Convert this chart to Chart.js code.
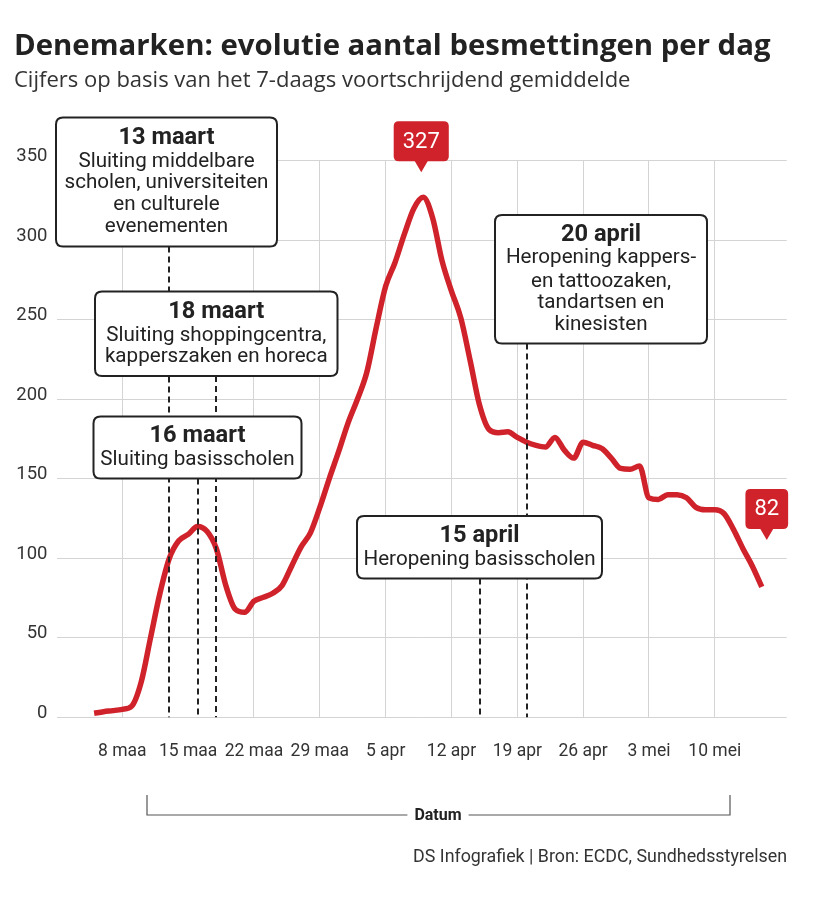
<!DOCTYPE html>
<html><head><meta charset="utf-8">
<script src="https://cdn.jsdelivr.net/npm/chart.js@4.4.1/dist/chart.umd.min.js"></script>
<style>html,body{margin:0;padding:0;background:#fff}#wrap{width:819px;height:902px;position:relative}</style>
</head><body><div id="wrap"><canvas id="c"></canvas></div>
<script>
// ---- data ----
const dayIndex = [4,5,6,7,8,9,10,11,12,13,14,15,16,17,18,19,20,21,22,23,24,25,26,27,28,29,30,31,32,33,34,35,36,37,38,39,40,41,42,43,44,45,46,47,48,49,50,51,52,53,54,55,56,57,58,59,60,61,62,63,64,65,66,67,68,69,70,71,72,73,74,75];
const cases = [2.5,3.5,4.2,5,7,22,50,78,100,111,115,120,117,106,83,68,66,73,75.5,78,83,95,107,116,132,150,167,185,200,217,245,271,286,304,320,327,314,287,268,251,224,196,181,179,179.5,176,173,171,170,176,168,163,173,171,169,163,156.5,156,158,138,137,140,140,138,132,130.5,130.5,128,118,106,95,82];
const tickDays = [7,14,21,28,35,42,49,56,63,70];
const tickLabels = ['8 maa','15 maa','22 maa','29 maa','5 apr','12 apr','19 apr','26 apr','3 mei','10 mei'];
const yTicks = [0,50,100,150,200,250,300,350];
const eventDays = [12,15,17,45,50];
const eventTitles = ['13 maart','16 maart','18 maart','15 april','20 april'];
const eventLines = [
  ['Sluiting middelbare','scholen, universiteiten','en culturele','evenementen'],
  ['Sluiting basisscholen'],
  ['Sluiting shoppingcentra,','kapperszaken en horeca'],
  ['Heropening basisscholen'],
  ['Heropening kappers-','en tattoozaken,','tandartsen en','kinesisten']
];
const titleText = 'Denemarken: evolutie aantal besmettingen per dag';
const subtitleText = 'Cijfers op basis van het 7-daags voortschrijdend gemiddelde';
const axisTitle = 'Datum';
const sourceText = 'DS Infografiek | Bron: ECDC, Sundhedsstyrelsen';

// ---- layout / style ----
const RED = '#d0222b';
const INK = '#222';
const GRID = '#d4d4d4';
const F = 'Roboto, "Noto Sans", sans-serif';
const FT = '"Open Sans", Roboto, sans-serif';
const boxes = [
  {x1:56, y1:117.5, x2:277, y2:246.5, ty:138, ly:[161.7,183.3,205,226.7]},
  {x1:93.5, y1:416.5, x2:301.5, y2:478.5, ty:436, ly:[460]},
  {x1:95, y1:291.5, x2:337.5, y2:376, ty:311.7, ly:[336,357.3]},
  {x1:357, y1:516, x2:602, y2:578.5, ty:536, ly:[560]},
  {x1:495, y1:215, x2:707, y2:343.5, ty:235, ly:[258.3,281.7,303.3,325]}
];

function rr(ctx,x,y,w,h,r){ctx.beginPath();ctx.moveTo(x+r,y);ctx.lineTo(x+w-r,y);ctx.quadraticCurveTo(x+w,y,x+w,y+r);ctx.lineTo(x+w,y+h-r);ctx.quadraticCurveTo(x+w,y+h,x+w-r,y+h);ctx.lineTo(x+r,y+h);ctx.quadraticCurveTo(x,y+h,x,y+h-r);ctx.lineTo(x,y+r);ctx.quadraticCurveTo(x,y,x+r,y);ctx.closePath();}
function fitSize(ctx, text, weight, family, target){ctx.font = weight+' 20px '+family; const w = ctx.measureText(text).width; return 20*target/w;}

function redLabel(ctx, tipX, tipY, text){
  ctx.font = '400 22px '+F;
  const tw = ctx.measureText(text).width;
  const w = tw + 18, h = 40;
  const x = tipX - w/2, yb = tipY - 11, y = yb - h;
  ctx.fillStyle = RED;
  rr(ctx,x,y,w,h,5); ctx.fill();
  ctx.beginPath(); ctx.moveTo(tipX-7,yb-1); ctx.lineTo(tipX+7,yb-1); ctx.lineTo(tipX,tipY); ctx.closePath(); ctx.fill();
  ctx.fillStyle = '#fff'; ctx.textAlign='center'; ctx.textBaseline='middle';
  ctx.fillText(text, tipX, y + h/2 + 1);
}

const overlay = {
  id:'overlay',
  afterDatasetsDraw(chart){
    const {ctx, scales:{x,y}} = chart;
    const y0 = y.getPixelForValue(0);
    ctx.save();
    ctx.setLineDash([6,4]); ctx.lineWidth = 2; ctx.strokeStyle = INK;
    eventDays.forEach((d,i)=>{
      const px = Math.round(x.getPixelForValue(d));
      ctx.beginPath(); ctx.moveTo(px, boxes[i].y2); ctx.lineTo(px, y0); ctx.stroke();
    });
    ctx.setLineDash([]);
    const bodySize = fitSize(ctx, 'scholen, universiteiten', '400', F, 204);
    const boldSize = fitSize(ctx, '13 maart', '700', F, 96);
    eventDays.forEach((d,i)=>{
      const b = boxes[i];
      rr(ctx, b.x1, b.y1, b.x2-b.x1, b.y2-b.y1, 7);
      ctx.fillStyle = '#fff'; ctx.fill();
      ctx.lineWidth = 2; ctx.strokeStyle = INK; ctx.stroke();
      const cx = (b.x1+b.x2)/2;
      ctx.fillStyle = INK; ctx.textAlign = 'center'; ctx.textBaseline = 'middle';
      ctx.font = '700 '+boldSize+'px '+F;
      ctx.fillText(eventTitles[i], cx, b.ty);
      ctx.font = '400 '+bodySize+'px '+F;
      eventLines[i].forEach((t,j)=> ctx.fillText(t, cx, b.ly[j]));
    });
    // value labels
    const meta = chart.getDatasetMeta(0);
    let maxI = 0; cases.forEach((v,i)=>{ if(v>cases[maxI]) maxI=i; });
    const pk = meta.data[maxI];
    redLabel(ctx, pk.x - 2, pk.y - 25, String(Math.round(cases[maxI])));
    const last = meta.data[cases.length-1];
    redLabel(ctx, last.x + 5, last.y - 47, String(Math.round(cases[cases.length-1])));
    ctx.restore();
  },
  afterDraw(chart){
    const ctx = chart.ctx;
    ctx.save();
    ctx.textAlign = 'left'; ctx.textBaseline = 'alphabetic';
    const ts = fitSize(ctx, titleText, '700', FT, 757);
    ctx.font = '700 '+ts+'px '+FT; ctx.fillStyle = INK;
    ctx.fillText(titleText, 14, 55);
    const ss = fitSize(ctx, subtitleText, '400', FT, 617);
    ctx.font = '400 '+ss+'px '+FT; ctx.fillStyle = '#333';
    ctx.fillText(subtitleText, 14, 87);
    // Datum bracket
    ctx.font = '700 16px '+F; ctx.fillStyle = INK;
    const dw = ctx.measureText(axisTitle).width;
    const cx = 438, ly = 815;
    ctx.strokeStyle = '#555'; ctx.lineWidth = 1.2;
    ctx.beginPath();
    ctx.moveTo(147, 795); ctx.lineTo(147, ly); ctx.lineTo(cx - dw/2 - 7, ly);
    ctx.moveTo(cx + dw/2 + 7, ly); ctx.lineTo(730, ly); ctx.lineTo(730, 795);
    ctx.stroke();
    ctx.textAlign = 'center'; ctx.textBaseline = 'middle';
    ctx.fillText(axisTitle, cx, ly + 1);
    // source
    const srs = fitSize(ctx, sourceText, '400', F, 374);
    ctx.font = '400 '+srs+'px '+F; ctx.fillStyle = '#333';
    ctx.textAlign = 'right';
    ctx.fillText(sourceText, 787, 858);
    ctx.restore();
  }
};

new Chart(document.getElementById('c'), {
  type:'line',
  data:{datasets:[{
    data: dayIndex.map((d,i)=>({x:d, y:cases[i]})),
    borderColor: RED, borderWidth: 5.5, pointRadius: 0,
    cubicInterpolationMode:'monotone', fill:false, borderJoinStyle:'round'
  }]},
  options:{
    responsive:true, maintainAspectRatio:false, animation:false,
    layout:{padding:{left:0, right:32.3, top:160.7, bottom:124.7}},
    plugins:{legend:{display:false}, tooltip:{enabled:false}, title:{display:false}},
    scales:{
      x:{
        type:'linear', min:0, max:77.65,
        afterBuildTicks:(s)=>{ s.ticks = tickDays.map(v=>({value:v})); },
        afterFit:(s)=>{ s.height = 60; },
        grid:{ color:(c)=> (c.tick && c.tick.value===14) ? 'rgba(0,0,0,0)' : GRID, drawTicks:false, lineWidth:1 },
        border:{display:false},
        ticks:{ callback:(v)=> tickLabels[tickDays.indexOf(v)], padding:24, autoSkip:false, maxRotation:0,
                font:{family:F, size:17.5}, color:'#333' }
      },
      y:{
        min:0, max:350,
        afterBuildTicks:(s)=>{ s.ticks = yTicks.map(v=>({value:v})); },
        afterFit:(s)=>{ s.width = 56.5; },
        grid:{ color:GRID, drawTicks:false, lineWidth:1 },
        border:{display:false},
        ticks:{ padding:9, labelOffset:-4, font:{family:F, size:18.5}, color:'#333' }
      }
    }
  },
  plugins:[overlay]
});
</script>
</body></html>
